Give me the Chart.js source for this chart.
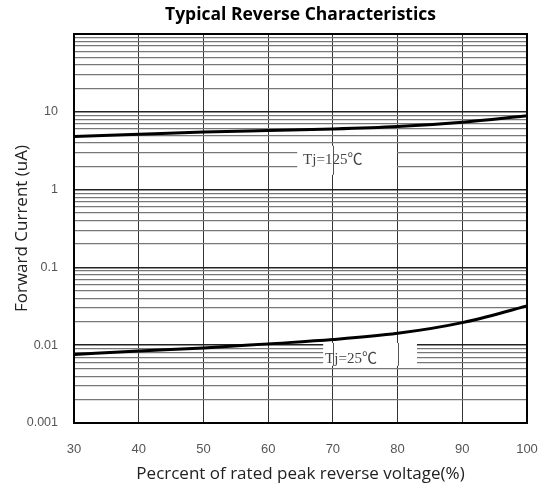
<!DOCTYPE html>
<html>
<head>
<meta charset="utf-8">
<script src="https://cdn.jsdelivr.net/npm/chart.js@4.4.1/dist/chart.umd.min.js"></script>
<style>
  html, body { margin: 0; padding: 0; background: #fff; }
  #wrap { width: 543px; height: 490px; }
</style>
</head>
<body>
<div id="wrap"><canvas id="chart" width="543" height="490"></canvas></div>
<script>
// Data
const voltage = [30, 40, 50, 60, 70, 80, 90, 100];
const current125 = [4.8, 5.15, 5.5, 5.75, 6.0, 6.45, 7.35, 8.9];
const current25 = [0.0076, 0.0084, 0.0092, 0.0104, 0.0118, 0.0142, 0.0195, 0.032];
const xTicks = [30, 40, 50, 60, 70, 80, 90, 100];
const yTickLabels = ['0.001', '0.01', '0.1', '1', '10'];
const decades = [0.001, 0.01, 0.1, 1, 10];
const curveLabels = ['Tj=125\u2103', 'Tj=25\u2103'];

// log grid: 1..9 of every decade, plus the top edge
const gridValues = [];
decades.forEach(d => {
    for (let m = 1; m <= 9; m++) gridValues.push(+(m * d).toPrecision(3));
});
gridValues.push(100);

// label boxes in data units (white patch that hides the horizontal grid)
const labelBoxes = [
    { text: curveLabels[0], x0: 64.5, x1: 79.9, yTop: 3.66, yBot: 1.55, tx: 65.4, ty: 2.37 },
    { text: curveLabels[1], x0: 68.5, x1: 83.0, yTop: 0.0107, yBot: 0.00544, tx: 68.8, ty: 0.00668 }
];

const labelPlugin = {
    id: 'curveLabels',
    beforeDatasetsDraw(chart) {
        const { ctx, scales: { x, y } } = chart;
        ctx.save();
        labelBoxes.forEach(b => {
            const l = x.getPixelForValue(b.x0), r = x.getPixelForValue(b.x1);
            const t = y.getPixelForValue(b.yTop), bt = y.getPixelForValue(b.yBot);
            ctx.fillStyle = '#fff';
            ctx.fillRect(l, t, r - l, bt - t);
            // vertical grid still shows through the patch
            ctx.strokeStyle = '#555';
            ctx.lineWidth = 1;
            xTicks.forEach(v => {
                const px = Math.round(x.getPixelForValue(v)) + 0.5;
                if (px > l && px < r) {
                    ctx.beginPath();
                    ctx.moveTo(px, t);
                    ctx.lineTo(px, bt);
                    ctx.stroke();
                }
            });
            ctx.fillStyle = '#444';
            ctx.font = '15px "Liberation Serif", "Noto Sans CJK SC", serif';
            ctx.textBaseline = 'middle';
            ctx.textAlign = 'left';
            ctx.fillText(b.text, x.getPixelForValue(b.tx), y.getPixelForValue(b.ty));
        });
        ctx.restore();
    },
    afterDraw(chart) {
        const { ctx, chartArea: a } = chart;
        ctx.save();
        ctx.strokeStyle = '#000';
        ctx.lineWidth = 2;
        ctx.strokeRect(a.left, a.top, a.right - a.left, a.bottom - a.top);
        ctx.restore();
    }
};

new Chart(document.getElementById('chart'), {
    type: 'line',
    data: {
        labels: voltage,
        datasets: [{
            label: curveLabels[0],
            data: voltage.map((v, i) => ({ x: v, y: current125[i] })),
            borderColor: '#000',
            borderWidth: 3,
            pointRadius: 0,
            cubicInterpolationMode: 'monotone'
        }, {
            label: curveLabels[1],
            data: voltage.map((v, i) => ({ x: v, y: current25[i] })),
            borderColor: '#000',
            borderWidth: 3,
            pointRadius: 0,
            cubicInterpolationMode: 'monotone'
        }]
    },
    options: {
        responsive: false,
        animation: false,
        layout: { padding: { left: 0, right: 16, top: 0, bottom: 0 } },
        plugins: {
            legend: { display: false },
            tooltip: { enabled: false },
            title: {
                display: true,
                fullSize: false,
                text: 'Typical Reverse Characteristics',
                color: '#000',
                font: { family: '"Open Sans", sans-serif', size: 17.5, weight: 'bold', lineHeight: 1.2 },
                padding: { top: 5, bottom: 8 }
            }
        },
        scales: {
            x: {
                type: 'linear',
                min: 30,
                max: 100,
                afterFit: s => { s.height = 67; s.paddingLeft = 0; s.paddingRight = 0; },
                afterBuildTicks: s => { s.ticks = xTicks.map(v => ({ value: v })); },
                grid: { color: '#333', lineWidth: 1, drawTicks: false },
                border: { display: false },
                ticks: {
                    color: '#555',
                    padding: 19,
                    font: { family: '"Liberation Sans", Arial, sans-serif', size: 13 }
                },
                title: {
                    display: true,
                    text: 'Pecrcent of rated peak reverse voltage(%)',
                    color: '#222',
                    font: { family: '"Open Sans", sans-serif', size: 17, lineHeight: 1.2 },
                    padding: { top: 0, bottom: 6 }
                }
            },
            y: {
                type: 'logarithmic',
                min: 0.001,
                max: 100,
                afterFit: s => { s.width = 74; },
                afterBuildTicks: s => { s.ticks = gridValues.map(v => ({ value: v })); },
                grid: {
                    drawTicks: false,
                    color: ctx => decades.includes(ctx.tick.value) ? '#222' : '#777',
                    lineWidth: ctx => decades.includes(ctx.tick.value) ? 1.5 : 1.2
                },
                border: { display: false },
                ticks: {
                    autoSkip: false,
                    color: '#555',
                    padding: 16,
                    font: { family: '"Liberation Sans", Arial, sans-serif', size: 12.5 },
                    callback: v => {
                        const i = decades.findIndex(d => Math.abs(d - v) / d < 1e-6);
                        return i >= 0 ? yTickLabels[i] : '';
                    }
                },
                title: {
                    display: true,
                    text: 'Forward Current (uA)',
                    color: '#222',
                    font: { family: '"Open Sans", sans-serif', size: 17, lineHeight: 1.2 },
                    padding: { top: 12, bottom: 0 }
                }
            }
        }
    },
    plugins: [labelPlugin]
});
</script>
</body>
</html>
